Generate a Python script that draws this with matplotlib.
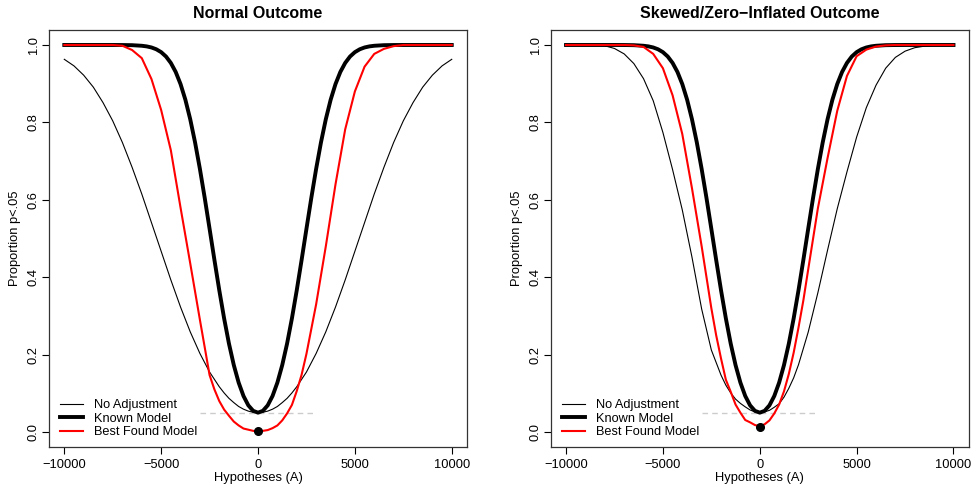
import matplotlib
matplotlib.use("Agg")
import matplotlib.pyplot as plt

plt.rcParams['font.family'] = ['Liberation Sans', 'DejaVu Sans']

# ---------------- Normal outcome ----------------
# No adjustment (thin black)
hyp_noadj_normal = [-10000, -9500, -9000, -8500, -8000, -7500, -7000, -6500, -6000, -5500,
                    -5000, -4500, -4000, -3500, -3000, -2500, -2000, -1750, -1500, -1250,
                    -1000, -750, -500, -250, 0, 250, 500, 750, 1000, 1250,
                    1500, 1750, 2000, 2500, 3000, 3500, 4000, 4500, 5000, 5500,
                    6000, 6500, 7000, 7500, 8000, 8500, 9000, 9500, 10000]
no_adj_normal = [0.963, 0.946, 0.922, 0.891, 0.851, 0.804, 0.748, 0.684, 0.615, 0.541,
                 0.467, 0.393, 0.323, 0.259, 0.203, 0.155, 0.117, 0.101, 0.087, 0.076,
                 0.066, 0.059, 0.054, 0.051, 0.050, 0.051, 0.054, 0.059, 0.066, 0.076,
                 0.087, 0.101, 0.117, 0.155, 0.203, 0.259, 0.323, 0.393, 0.467, 0.541,
                 0.615, 0.684, 0.748, 0.804, 0.851, 0.891, 0.922, 0.946, 0.963]

# Known model (thick black) - same in both panels
hyp_known = [-10000, -9500, -9000, -8500, -8000, -7500, -7000, -6500, -6000, -5750,
             -5500, -5250, -5000, -4750, -4500, -4250, -4000, -3750, -3500, -3250,
             -3000, -2750, -2500, -2250, -2000, -1750, -1500, -1250, -1000, -750,
             -500, -250, 0, 250, 500, 750, 1000, 1250, 1500, 1750,
             2000, 2250, 2500, 2750, 3000, 3250, 3500, 3750, 4000, 4250,
             4500, 4750, 5000, 5250, 5500, 5750, 6000, 6500, 7000, 7500,
             8000, 8500, 9000, 9500, 10000]
known_model = [1.0, 1.0, 1.0, 1.0, 1.0, 1.0, 0.9999, 0.9995, 0.998, 0.9964,
               0.9936, 0.9889, 0.9815, 0.9702, 0.9536, 0.9304, 0.8991, 0.8586, 0.8083, 0.7484,
               0.6798, 0.6045, 0.525, 0.4445, 0.3664, 0.2936, 0.2284, 0.1729, 0.1277, 0.0931,
               0.0689, 0.0547, 0.050, 0.0547, 0.0689, 0.0931, 0.1277, 0.1729, 0.2284, 0.2936,
               0.3664, 0.4445, 0.525, 0.6045, 0.6798, 0.7484, 0.8083, 0.8586, 0.8991, 0.9304,
               0.9536, 0.9702, 0.9815, 0.9889, 0.9936, 0.9964, 0.998, 0.9995, 0.9999, 1.0,
               1.0, 1.0, 1.0, 1.0, 1.0]

# Best found model (red)
hyp_best_normal = [-10000, -9500, -9000, -8500, -8000, -7500, -7000, -6500, -6000, -5500,
                   -5000, -4500, -4000, -3500, -3000, -2500, -2250, -2000, -1750, -1500,
                   -1250, -1000, -750, -500, -250, 0, 250, 500, 750, 1000,
                   1250, 1500, 1750, 2000, 2250, 2500, 3000, 3500, 4000, 4500,
                   5000, 5500, 6000, 6500, 7000, 7500, 8000, 8500, 9000, 9500, 10000]
best_normal = [1.0, 1.0, 1.0, 1.0, 1.0, 1.0, 0.998, 0.987, 0.966, 0.912,
               0.832, 0.728, 0.580, 0.436, 0.290, 0.147, 0.110, 0.080, 0.058, 0.042,
               0.027, 0.017, 0.009, 0.006, 0.003, 0.002, 0.003, 0.005, 0.010, 0.017,
               0.030, 0.048, 0.070, 0.106, 0.148, 0.202, 0.330, 0.480, 0.640, 0.782,
               0.880, 0.944, 0.977, 0.990, 0.997, 1.0, 1.0, 1.0, 1.0, 1.0, 1.0]

# ---------------- Skewed / zero-inflated outcome ----------------
hyp_noadj_skewed = [-10000, -9500, -9000, -8500, -8000, -7500, -7000, -6500, -6000, -5500,
                    -5000, -4500, -4000, -3500, -3000, -2500, -2000, -1750, -1500, -1250,
                    -1000, -750, -500, -250, 0, 250, 500, 750, 1000, 1250,
                    1500, 1750, 2000, 2500, 3000, 3500, 4000, 4500, 5000, 5500,
                    6000, 6500, 7000, 7500, 8000, 8500, 9000, 9500, 10000]
no_adj_skewed = [1.0, 1.0, 1.0, 0.9995, 0.998, 0.991, 0.977, 0.952, 0.913, 0.856,
                 0.774, 0.678, 0.574, 0.452, 0.318, 0.212, 0.147, 0.121, 0.101, 0.085,
                 0.074, 0.065, 0.057, 0.052, 0.050, 0.052, 0.056, 0.064, 0.073, 0.090,
                 0.113, 0.140, 0.174, 0.258, 0.360, 0.470, 0.577, 0.672, 0.762, 0.838,
                 0.896, 0.940, 0.968, 0.984, 0.993, 0.997, 0.999, 1.0, 1.0]

hyp_best_skewed = [-10000, -9500, -9000, -8500, -8000, -7500, -7000, -6500, -6000, -5500,
                   -5000, -4500, -4000, -3500, -3000, -2500, -2250, -2000, -1750, -1500,
                   -1250, -1000, -750, -500, -250, 0, 250, 500, 750, 1000,
                   1250, 1500, 1750, 2000, 2250, 2500, 3000, 3500, 4000, 4500,
                   5000, 5500, 6000, 6500, 7000, 7500, 8000, 8500, 9000, 9500, 10000]
best_skewed = [1.0, 1.0, 1.0, 1.0, 1.0, 1.0, 1.0, 0.999, 0.995, 0.977,
               0.940, 0.870, 0.770, 0.630, 0.480, 0.320, 0.250, 0.190, 0.135, 0.104,
               0.071, 0.050, 0.031, 0.025, 0.018, 0.015, 0.020, 0.030, 0.048, 0.071,
               0.105, 0.150, 0.205, 0.270, 0.340, 0.420, 0.578, 0.708, 0.830, 0.920,
               0.971, 0.988, 0.996, 0.999, 1.0, 1.0, 1.0, 1.0, 1.0, 1.0, 1.0]

best_min = [0.002, 0.014]  # marked minimum of best found model
ref_line_x = [-3000, 3000]
alpha_level = 0.05

panels = [
    ("Normal Outcome", hyp_noadj_normal, no_adj_normal, hyp_best_normal, best_normal, best_min[0]),
    ("Skewed/Zero\u2212Inflated Outcome", hyp_noadj_skewed, no_adj_skewed,
     hyp_best_skewed, best_skewed, best_min[1]),
]

fig = plt.figure(figsize=(9.72, 4.91), dpi=100)
lefts = [0.0502, 0.5664]

for (title, hx, noadj, bx, best, mn), left in zip(panels, lefts):
    ax = fig.add_axes([left, 0.0886, 0.4305, 0.8513])
    ax.plot(ref_line_x, [alpha_level, alpha_level], color="#cccccc", lw=1, ls=(0, (4, 3)))
    ax.plot(hx, noadj, color="black", lw=0.8, label="No Adjustment")
    ax.plot(hyp_known, known_model, color="black", lw=2.8, label="Known Model")
    ax.plot(bx, best, color="red", lw=1.5, label="Best Found Model")
    ax.plot([0], [mn], "o", color="black", ms=5.5)

    ax.set_xlim(-10800, 10800)
    ax.set_ylim(-0.04, 1.04)
    ax.set_xticks([-10000, -5000, 0, 5000, 10000])
    ax.set_yticks([0.0, 0.2, 0.4, 0.6, 0.8, 1.0])
    ax.set_yticklabels(["0.0", "0.2", "0.4", "0.6", "0.8", "1.0"], rotation=90, va="center")
    ax.tick_params(direction="out", length=5, width=0.8, labelsize=9.3)
    ax.tick_params(axis="x", pad=3)
    ax.tick_params(axis="y", pad=1.5)
    for s in ax.spines.values():
        s.set_linewidth(0.9)
        s.set_color("#333333")

    ax.set_title(title, fontsize=11.5, fontweight="bold", pad=8)
    ax.set_xlabel("Hypotheses (A)", fontsize=9.3, labelpad=1)
    ax.set_ylabel("Proportion p<.05", fontsize=9.3, labelpad=5)

    ax.legend(loc="lower left", bbox_to_anchor=(0.027, 0.022), frameon=False,
              fontsize=9.2, handlelength=1.8, handletextpad=0.85,
              labelspacing=0.12, borderpad=0, borderaxespad=0)

fig.savefig("out.png", dpi=100)
